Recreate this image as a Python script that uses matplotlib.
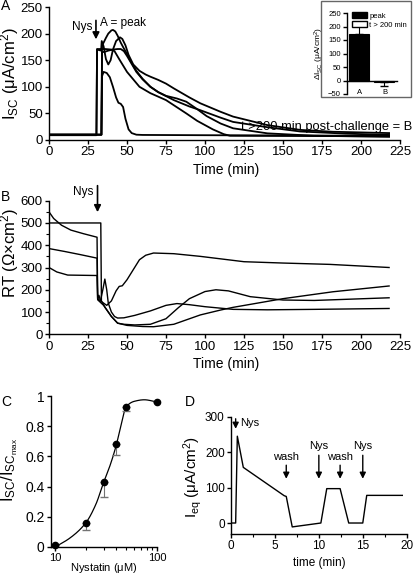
import numpy as np
import matplotlib
matplotlib.use('Agg')
import matplotlib.pyplot as plt
from matplotlib.patches import Rectangle

plt.rcParams['font.family'] = ['Liberation Sans', 'DejaVu Sans']
plt.rcParams['mathtext.fontset'] = 'custom'
plt.rcParams['mathtext.rm'] = 'Liberation Sans'
plt.rcParams['mathtext.default'] = 'regular'
plt.rcParams['axes.linewidth'] = 1.0

# ---- panel A: Isc traces (min, uA/cm2)
t_low = [0, 33.6, 34.0, 35, 37, 39, 41, 43, 44.5, 46, 47.5, 49, 51, 53, 56, 60, 100, 150, 218]
i_low = [10, 10, 120, 128, 126, 118, 100, 80, 70, 68, 62, 40, 20, 13, 10, 9.5, 9, 8.5, 8]
t_p207 = [0, 33.6, 34.0, 35, 36.5, 38, 40, 41, 42.5, 44, 46, 48, 50, 52, 56, 60, 65, 70, 80, 90, 97,
          110, 118, 140, 161, 190, 218]
i_p207 = [10, 10, 178, 183, 192, 200, 206, 207, 204, 196, 183, 172, 162, 150, 130, 115, 100, 90, 75, 63,
          56, 42, 34, 24, 16, 12, 9.5]
t_p193 = [0, 30.4, 30.8, 33.4, 33.8, 35, 36.5, 38, 39.5, 41, 43, 45.5, 47, 49, 51, 54, 58, 62, 65, 70,
          75, 80, 90, 97, 110, 118, 140, 161, 182, 218]
i_p193 = [10, 10, 170, 168, 186, 176, 152, 142, 150, 170, 186, 193, 190, 178, 160, 142, 130, 123, 119,
          113, 106, 97, 80, 69, 53, 44, 28, 19, 15.5, 13]
t_p171 = [0, 33.6, 34.0, 36, 38, 41, 44, 46, 48, 50, 53, 56, 60, 65, 70, 75, 82, 88, 95, 101, 110, 118,
          140, 170, 218]
i_p171 = [10, 10, 165, 166, 168, 170, 171, 171, 167, 158, 143, 128, 114, 100, 90, 83, 78, 72, 58, 45,
          31, 22, 12.5, 8, 6]
t_flat = [0, 30.4, 30.8, 36, 40, 42, 45, 50, 58, 65, 75, 88, 95, 105, 112, 116, 218]
i_flat = [9, 9, 171, 171, 170, 167, 152, 128, 100, 88, 75, 50, 36, 20, 11, 8, 7]
a_traces = [(t_low, i_low), (t_p207, i_p207), (t_p193, i_p193), (t_p171, i_p171), (t_flat, i_flat)]

# inset: delta Isc
ins_cat = ['A', 'B']
ins_val = [172, -6]
ins_err = [31, 14]

# ---- panel B: RT traces (ohm cm2)
t_hi = [0, 3, 8, 14, 22, 30.8, 31.2, 32, 33, 35, 37, 40, 43, 45, 47, 50, 54, 58, 62, 67, 80, 97, 125,
        150, 180, 218]
r_hi = [550, 520, 490, 468, 452, 436, 160, 175, 150, 140, 130, 150, 195, 215, 218, 245, 290, 335, 355,
        365, 362, 350, 326, 320, 314, 300]
t_m1 = [0, 10, 20, 30.8, 31.2, 33, 34.5, 35.8, 37, 38, 40, 42, 44, 48, 55, 65, 75, 82, 90, 100, 118,
        140, 170, 218]
r_m1 = [385, 372, 358, 342, 160, 150, 200, 248, 200, 140, 100, 80, 73, 74, 85, 105, 130, 138, 133, 124,
        112, 110, 112, 116]
t_m2 = [0, 33.2, 33.6, 36, 40, 44, 48, 55, 65, 75, 83, 90, 100, 107, 115, 129, 150, 170, 218]
r_m2 = [500, 500, 150, 120, 80, 50, 45, 42, 45, 70, 120, 160, 192, 200, 195, 169, 154, 152, 164]
t_lo = [0, 5, 12, 30.8, 31.2, 35, 40, 44, 50, 60, 67, 80, 97, 110, 118, 150, 182, 218]
r_lo = [300, 280, 266, 264, 155, 130, 80, 50, 40, 35, 34, 45, 87, 109, 121, 160, 191, 217]

# ---- panel C: dose response
nys_conc = [10, 20, 30, 40, 50, 100]
isc_rel = [0.01, 0.16, 0.43, 0.68, 0.93, 0.96]
isc_err = [0, 0.05, 0.10, 0.07, 0.03, 0]
fit_x = [10, 14, 20, 25, 30, 35, 40, 44, 50, 60, 75, 100]
fit_y = [0.0, 0.06, 0.16, 0.28, 0.43, 0.55, 0.68, 0.80, 0.93, 0.965, 0.975, 0.96]

# ---- panel D: Ieq
d_t = [0, 0.53, 0.72, 1.40, 6.06, 6.29, 6.97, 10.23, 10.9, 12.42, 13.4, 15.0, 15.45, 19.5]
d_i = [0, 0, 245, 157, 77, 75, -11, 0, 97, 97, 0, 0, 78, 78]
d_marks = [('Nys', 10.0), ('wash', 6.29), ('wash', 12.42), ('Nys', 15.0)]


def pchip(x, y, xn):
    x = np.asarray(x, float); y = np.asarray(y, float)
    h = np.diff(x); d = np.diff(y) / h
    m = np.zeros_like(y)
    m[0], m[-1] = d[0], d[-1]
    for k in range(1, len(x) - 1):
        if d[k - 1] * d[k] > 0:
            w1 = 2 * h[k] + h[k - 1]; w2 = h[k] + 2 * h[k - 1]
            m[k] = (w1 + w2) / (w1 / d[k - 1] + w2 / d[k])
    i = np.clip(np.searchsorted(x, xn) - 1, 0, len(h) - 1)
    t = (xn - x[i]) / h[i]
    return ((2*t**3 - 3*t**2 + 1) * y[i] + (t**3 - 2*t**2 + t) * h[i] * m[i]
            + (-2*t**3 + 3*t**2) * y[i + 1] + (t**3 - t**2) * h[i] * m[i + 1])


def style(ax, fs):
    ax.spines['top'].set_visible(False)
    ax.spines['right'].set_visible(False)
    ax.tick_params(direction='out', length=3, width=1, pad=1.5, labelsize=fs)
    ax.tick_params(which='minor', direction='out', length=2, width=0.8)


W, H = 414, 575
def pos(l, t, r, b):
    return [l / W, 1 - b / H, (r - l) / W, (b - t) / H]

def ftext(x, y, s, **kw):
    # text placed in reference pixel coordinates
    return fig.text(x / W, 1 - y / H, s, ha=kw.pop('ha', 'center'), va=kw.pop('va', 'center'), **kw)

fig = plt.figure(figsize=(4.14, 5.75), dpi=100)

# A
ax = fig.add_axes(pos(49, 7, 400, 140))
for t, v in a_traces:
    ax.plot(t, v, color='k', lw=1.3)
ax.set_xlim(0, 225); ax.set_ylim(0, 250)
ax.set_xticks(range(0, 226, 25)); ax.set_yticks(range(0, 251, 50))
style(ax, 9.5)
ax.annotate('', xy=(30.1, 184), xytext=(30.1, 230),
            arrowprops=dict(arrowstyle='-|>', color='k', lw=1.2, mutation_scale=10))
ax.text(28, 213, 'Nys', ha='right', va='center', fontsize=8.5)
ax.text(33, 220, 'A = peak', ha='left', va='center', fontsize=8.5)
ftext(412, 127, 't >200 min post-challenge = B', ha='right', fontsize=9.3)
ftext(226, 170, 'Time (min)', fontsize=10)
ftext(10, 74, r'$I_{SC}$ ($\mu$A/cm$^2$)', rotation=90, fontsize=12)
ftext(6, 6, 'A', fontsize=10)

# inset
fig.patches.append(Rectangle((321 / W, 1 - 97 / H), 90 / W, 96 / H, transform=fig.transFigure,
                             fill=False, ec='0.4', lw=1.0))
ai = fig.add_axes(pos(347, 13, 397, 94))
xi = np.arange(len(ins_cat))
ai.bar(xi, ins_val, width=0.8, color=['k', 'w'], edgecolor='k', lw=0.8)
ai.errorbar(xi[0], ins_val[0], yerr=[[0], [ins_err[0]]], fmt='none', ecolor='k', capsize=3, lw=0.8)
ai.errorbar(xi[1], ins_val[1], yerr=[[ins_err[1]], [0]], fmt='none', ecolor='k', capsize=3, lw=0.8)
ai.set_ylim(-50, 250); ai.set_xlim(-0.5, 1.5)
ai.set_yticks(range(-50, 251, 50))
ai.set_xticks(xi); ai.set_xticklabels(ins_cat)
ai.spines['bottom'].set_position(('data', 0))
style(ai, 5.5)
ai.tick_params(axis='x', length=0, pad=6)
ai.set_ylabel(r'$\Delta I_{SC}$ ($\mu$A/cm$^2$)', fontsize=6, labelpad=1)
ai.legend(handles=[Rectangle((0, 0), 1, 1, fc='k', ec='k'), Rectangle((0, 0), 1, 1, fc='w', ec='k')],
          labels=['peak', 't > 200 min'], loc='upper left', bbox_to_anchor=(0.02, 1.06), fontsize=5.5,
          frameon=False, handlelength=2.0, handleheight=0.8, borderpad=0, labelspacing=0.2, handletextpad=0.3)

# B
bx = fig.add_axes(pos(49, 200.7, 400, 334.3))
for t, r in [(t_hi, r_hi), (t_m1, r_m1), (t_m2, r_m2), (t_lo, r_lo)]:
    bx.plot(t, r, color='k', lw=1.0)
bx.set_xlim(0, 225); bx.set_ylim(0, 600)
bx.set_xticks(range(0, 226, 25)); bx.set_yticks(range(0, 601, 100))
bx.set_yticks(range(50, 600, 100), minor=True)
style(bx, 9.5)
bx.annotate('', xy=(31.1, 536), xytext=(31.1, 680), annotation_clip=False,
            arrowprops=dict(arrowstyle='-|>', color='k', lw=1.2, mutation_scale=10))
bx.text(28.5, 640, 'Nys', ha='right', va='center', fontsize=8.5, clip_on=False)
ftext(226, 364, 'Time (min)', fontsize=10)
ftext(10, 253, r'RT ($\Omega$×cm$^2$)', rotation=90, fontsize=12)
ftext(6, 197, 'B', fontsize=10)

# C
cx = fig.add_axes(pos(51, 396, 157, 547))
xf = np.logspace(1, 2, 200)
cx.plot(xf, pchip(np.log10(fit_x), fit_y, np.log10(xf)), color='k', lw=0.9)
cx.errorbar(nys_conc, isc_rel, yerr=[isc_err, [0] * len(isc_err)], fmt='none', ecolor='0.45',
            capsize=3, lw=0.8)
cx.plot(nys_conc, isc_rel, 'o', color='k', ms=4.5, clip_on=False)
cx.set_xscale('log')
cx.set_xlim(9.1, 100); cx.set_ylim(0, 1)
cx.set_xticks([10, 100]); cx.set_xticklabels(['10', '100'])
cx.set_yticks([0, 0.2, 0.4, 0.6, 0.8, 1]); cx.set_yticklabels(['0', '0.2', '0.4', '0.6', '0.8', '1'])
style(cx, 10)
cx.tick_params(axis='x', labelsize=8)
ftext(104, 568, r'Nystatin ($\mu$M)', fontsize=8)
ftext(10, 470, r'$I_{SC}/I_{SC_{max}}$', rotation=90, fontsize=12)
ftext(6, 402, 'C', fontsize=10)

# D
dx = fig.add_axes(pos(231, 416.7, 406.7, 534))
dx.plot(d_t, d_i, color='k', lw=1.0)
dx.set_xlim(0, 20); dx.set_ylim(-31, 300)
dx.set_xticks([0, 5, 10, 15, 20]); dx.set_xticks([2.5, 7.5, 12.5, 17.5], minor=True)
dx.set_yticks([0, 100, 200, 300])
style(dx, 8.5)
dx.annotate('', xy=(d_t[1], 258), xytext=(d_t[1], 302), annotation_clip=False,
            arrowprops=dict(arrowstyle='-|>', color='k', lw=1.0, mutation_scale=9))
dx.text(1.0, 283, 'Nys', ha='left', va='center', fontsize=8)
for name, x0 in d_marks:
    top = 199 if name == 'Nys' else 171
    dx.annotate('', xy=(x0, 117), xytext=(x0, top),
                arrowprops=dict(arrowstyle='-|>', color='k', lw=1.0, mutation_scale=9))
    dx.text(x0, 217.5 if name == 'Nys' else 187.5, name, ha='center', va='center', fontsize=8)
ftext(319, 563, 'time (min)', fontsize=8.5)
ftext(193, 477, r'$I_{eq}$ ($\mu$A/cm$^2$)', rotation=90, fontsize=11)
ftext(190, 402, 'D', fontsize=10)

fig.savefig('out.png', dpi=100)
